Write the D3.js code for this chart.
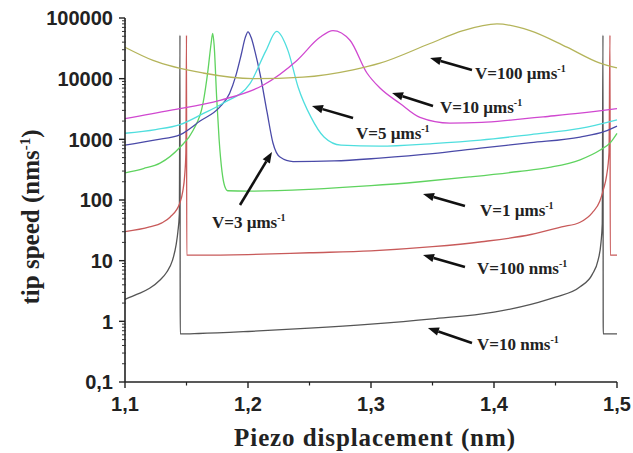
<!DOCTYPE html>
<html>
<head>
<meta charset="utf-8">
<script src="https://cdn.jsdelivr.net/npm/d3@7"></script>
<style>
  html, body { margin: 0; padding: 0; background: #fff; }
  svg { display: block; }
  .serif { font-family: "Liberation Serif", "Times New Roman", Times, serif; font-weight: bold; }
  .sans { font-family: "Liberation Sans", Arial, Helvetica, sans-serif; font-weight: bold; }
</style>
</head>
<body>
<svg id="chart" width="633" height="453"></svg>
<script>
// ---------- DATA (x in nm, y in nm/s) ----------
const xTicks = [1.1, 1.2, 1.3, 1.4, 1.5];
const xTickLabels = ["1,1", "1,2", "1,3", "1,4", "1,5"];
const yTicks = [0.1, 1, 10, 100, 1000, 10000, 100000];
const yTickLabels = ["0,1", "1", "10", "100", "1000", "10000", "100000"];

const v10nm = [[1.100,2.3],[1.110,2.8],[1.120,3.5],[1.1285,4.8],[1.134,6.5],[1.1385,10],[1.1415,18],[1.143,30],[1.1442,60],[1.1447,52000],[1.1449,0.62],[1.16,0.63],[1.2,0.68],[1.25,0.77],[1.3,0.9],[1.35,1.1],[1.4,1.42],[1.43,1.9],[1.45,2.5],[1.47,3.7],[1.48,6],[1.4845,10],[1.487,20],[1.488,40],[1.4886,52000],[1.4888,0.62],[1.5,0.62]];
const v100nm = [[1.1,30],[1.12,36],[1.13,42],[1.1366,52],[1.1447,90],[1.147,140],[1.1485,250],[1.1495,600],[1.15,52000],[1.1502,12.3],[1.16,12.3],[1.2,12.6],[1.25,13.5],[1.3,14.5],[1.35,17],[1.39,20.5],[1.43,27],[1.455,36],[1.47,43],[1.48,62],[1.486,95],[1.489,150],[1.4915,250],[1.4935,600],[1.4943,52000],[1.4945,12.3],[1.5,12.3]];
const v1um = [[1.1,280],[1.115,330],[1.1285,405],[1.1447,740],[1.1553,1400],[1.1634,3900],[1.1675,14000],[1.1700,38000],[1.1713,56000],[1.1725,35000],[1.1745,5000],[1.1765,1000],[1.1789,290],[1.181,170],[1.1835,142],[1.2,140],[1.25,150],[1.3,172],[1.34,200],[1.38,240],[1.42,295],[1.445,345],[1.47,460],[1.486,660],[1.495,900],[1.5,1250]];
const v3um = [[1.1,800],[1.125,980],[1.145,1200],[1.161,2000],[1.177,3400],[1.185,5700],[1.19,11000],[1.1945,25000],[1.1977,47000],[1.2,59000],[1.2025,48000],[1.2057,28000],[1.2098,12000],[1.2155,2800],[1.2203,870],[1.226,510],[1.2366,430],[1.27,440],[1.307,490],[1.35,580],[1.389,716],[1.43,880],[1.47,1090],[1.49,1350],[1.5,1650]];
const v5um = [[1.1,1260],[1.125,1450],[1.1447,1750],[1.1626,2600],[1.1797,3940],[1.2016,8300],[1.2146,29000],[1.2233,60000],[1.2325,29000],[1.2407,7300],[1.2512,2320],[1.2618,1090],[1.2756,800],[1.307,770],[1.35,850],[1.389,970],[1.43,1200],[1.47,1510],[1.5,2100]];
const v10um = [[1.1,2200],[1.1366,3000],[1.1772,4400],[1.2122,7800],[1.2398,20000],[1.2585,48000],[1.2691,62000],[1.2829,43000],[1.2967,12400],[1.3073,7000],[1.3236,3900],[1.3398,2300],[1.3642,1850],[1.39,1900],[1.4154,2100],[1.44,2350],[1.4699,2700],[1.5,3200]];
const v100um = [[1.1,33000],[1.1228,20000],[1.1634,12400],[1.2041,10000],[1.2447,10600],[1.2854,14000],[1.3073,18000],[1.348,38000],[1.3748,62000],[1.4024,80000],[1.4293,62000],[1.4593,33000],[1.4862,18000],[1.5,15000]];

// annotation labels: arrow tip, arrow tail and text anchor in data coordinates
const labelMain = ["V=100 µms", "V=10 µms", "V=5 µms", "V=3 µms", "V=1 µms", "V=100 nms", "V=10 nms"];
const labelTip  = [[1.3480,21900],[1.3171,5800],[1.2520,3540],[1.2195,618],[1.3423,126],[1.3423,12.4],[1.3463,0.776]];
const labelTail = [[1.3821,13900],[1.3504,3540],[1.2854,2240],[1.1935,82.6],[1.3764,79.6],[1.3764,7.86],[1.3821,0.44]];
const labelText = [[1.3846,12400],[1.3561,3410],[1.2878,1270],[1.1707,43.4],[1.3886,68.4],[1.3862,7.57],[1.3862,0.423]];

// ---------- LAYOUT ----------
const svg = d3.select("#chart");
const L = 125, R = 617, T = 18, B = 382;
const x = d3.scaleLinear().domain([1.1, 1.5]).range([L, R]);
const y = d3.scaleLog().domain([0.1, 100000]).range([B, T]);

const series = [
  { data: v10nm,  color: "#555555" },
  { data: v100nm, color: "#c85a5a" },
  { data: v1um,   color: "#5fd35f" },
  { data: v3um,   color: "#4a4aa8" },
  { data: v5um,   color: "#4fdede" },
  { data: v10um,  color: "#d048d0" },
  { data: v100um, color: "#b4b45a" }
];

const line = d3.line().x(d => x(d[0])).y(d => y(d[1])).curve(d3.curveMonotoneX);

svg.append("g").selectAll("path").data(series).join("path")
  .attr("d", d => line(d.data))
  .attr("fill", "none")
  .attr("stroke", d => d.color)
  .attr("stroke-width", 1.3);

// ---------- AXES ----------
const axG = svg.append("g");
// x axis
const xMinor = d3.range(1.15, 1.5, 0.1);
axG.append("line").attr("x1", L).attr("x2", R).attr("y1", B).attr("y2", B)
  .attr("stroke", "#222").attr("stroke-width", 1.6);
axG.selectAll(".xt").data(xTicks).join("line")
  .attr("x1", d => x(d)).attr("x2", d => x(d)).attr("y1", B).attr("y2", B + 6)
  .attr("stroke", "#222").attr("stroke-width", 1.4);
axG.selectAll(".xm").data(xMinor).join("line")
  .attr("x1", d => x(d)).attr("x2", d => x(d)).attr("y1", B).attr("y2", B + 3.5)
  .attr("stroke", "#222").attr("stroke-width", 1.2);
axG.selectAll(".xl").data(xTicks).join("text")
  .attr("class", "sans")
  .attr("x", d => x(d)).attr("y", B + 22).attr("dy", "0.35em")
  .attr("text-anchor", "middle")
  .attr("font-size", 20).attr("fill", "#222")
  .text((d, i) => xTickLabels[i]);

// y axis
axG.append("line").attr("x1", L).attr("x2", L).attr("y1", B).attr("y2", T)
  .attr("stroke", "#222").attr("stroke-width", 1.6);
const yMinor = [];
yTicks.slice(0, -1).forEach(t => { for (let k = 2; k <= 9; k++) yMinor.push(t * k); });
axG.selectAll(".ym").data(yMinor).join("line")
  .attr("x1", L - 3).attr("x2", L + 1).attr("y1", d => y(d)).attr("y2", d => y(d))
  .attr("stroke", "#333").attr("stroke-width", 1);
axG.selectAll(".yt").data(yTicks).join("line")
  .attr("x1", L - 6).attr("x2", L).attr("y1", d => y(d)).attr("y2", d => y(d))
  .attr("stroke", "#222").attr("stroke-width", 1.4);
axG.selectAll(".yl").data(yTicks).join("text")
  .attr("class", "sans")
  .attr("x", L - 12).attr("y", d => y(d)).attr("dy", "0.36em")
  .attr("text-anchor", "end")
  .attr("font-size", 20).attr("fill", "#222")
  .text((d, i) => yTickLabels[i]);

// axis titles
svg.append("text").attr("class", "serif")
  .attr("x", 375).attr("y", 437).attr("dy", "0.35em")
  .attr("text-anchor", "middle")
  .attr("font-size", 25).attr("letter-spacing", 0.9).attr("fill", "#222")
  .text("Piezo displacement (nm)");

const yt = svg.append("text").attr("class", "serif")
  .attr("transform", "translate(30,217) rotate(-90)")
  .attr("text-anchor", "middle").attr("dy", "0.35em")
  .attr("font-size", 25).attr("fill", "#222");
yt.append("tspan").text("tip speed (nms");
yt.append("tspan").attr("font-size", 15).attr("dy", "-0.6em").text("-1");
yt.append("tspan").attr("dy", "0.35em").text(")");

// ---------- ANNOTATIONS ----------
const ann = svg.append("g");
labelMain.forEach((lab, i) => {
  const tx = x(labelTip[i][0]), ty = y(labelTip[i][1]);
  const sx = x(labelTail[i][0]), sy = y(labelTail[i][1]);
  const ang = Math.atan2(ty - sy, tx - sx);
  const hl = 11, hw = 4.2;
  const bx = tx - hl * Math.cos(ang), by = ty - hl * Math.sin(ang);
  ann.append("line").attr("x1", sx).attr("y1", sy).attr("x2", bx).attr("y2", by)
    .attr("stroke", "#111").attr("stroke-width", 2.6);
  ann.append("polygon")
    .attr("points", [
      [tx, ty],
      [bx + hw * Math.sin(ang), by - hw * Math.cos(ang)],
      [bx - hw * Math.sin(ang), by + hw * Math.cos(ang)]
    ].map(p => p.join(",")).join(" "))
    .attr("fill", "#111");
  const t = ann.append("text").attr("class", "serif")
    .attr("x", x(labelText[i][0])).attr("y", y(labelText[i][1])).attr("dy", "0.35em")
    .attr("font-size", 17).attr("fill", "#222");
  t.append("tspan").text(lab);
  t.append("tspan").attr("font-size", 10).attr("dy", "-0.7em").text("-1");
});
</script>
</body>
</html>
